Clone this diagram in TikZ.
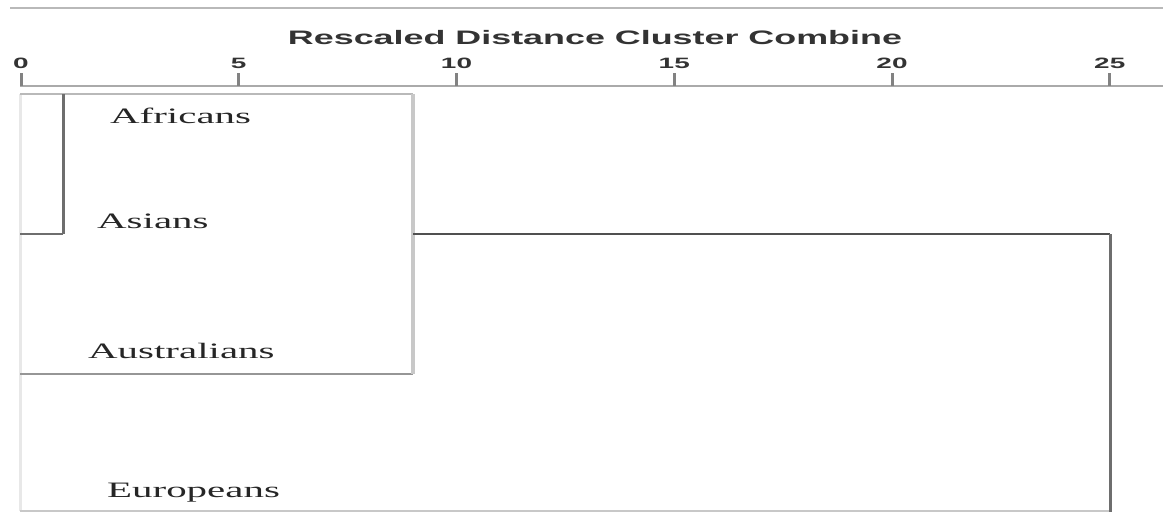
\documentclass[tikz,border=0pt]{standalone}
\usepackage{fontspec}
\setmainfont{Liberation Serif}
\newfontfamily\axisfont{Liberation Sans}
\usepackage{graphicx}
\newcommand\xstretch[1]{\scalebox{1.86}[1]{#1}}
\definecolor{frameGray}{RGB}{185,185,185}
\definecolor{axisGray}{RGB}{170,170,170}
\definecolor{tickGray}{RGB}{130,130,130}
\definecolor{paleGray}{RGB}{232,232,232}
\definecolor{lightGray}{RGB}{200,200,200}
\definecolor{midGray}{RGB}{150,150,150}
\definecolor{darkGray}{RGB}{110,110,110}
\definecolor{inkGray}{RGB}{80,80,80}
\begin{document}
\begin{tikzpicture}[x=1pt,y=-1pt,
  leaf/.style={anchor=base west, inner sep=0pt, text=black!85, font=\fontsize{22}{22}\selectfont},
  ticklabel/.style={anchor=base, inner sep=0pt, text=black!80, font=\axisfont\bfseries\fontsize{15}{15}\selectfont},
  titlelabel/.style={anchor=base, inner sep=0pt, text=black!80, font=\axisfont\bfseries\fontsize{19.5}{19.5}\selectfont},
  tickmark/.style={draw=tickGray, line width=3pt},
  link/.style={line width=2pt}
]
\useasboundingbox (0,0) rectangle (1163,512);
\fill[white] (0,0) rectangle (1163,512);

% top frame line and title
\coordinate (topL) at (10,8);
\coordinate (topR) at (1163,8);
\draw[frameGray, line width=2pt] (topL) -- (topR);
\node[titlelabel] (title) at (595,44) {\resizebox{614pt}{\height}{Rescaled Distance Cluster Combine}};

% axis
\coordinate (axL) at (20,86);
\coordinate (axR) at (1163,86);
\draw[axisGray, line width=2pt] (axL) -- (axR);
\foreach \v [count=\i from 0] in {0,5,10,15,20,25}{
  \pgfmathsetmacro\xx{21+43.55*\v}
  \node[ticklabel] (t\i) at (\xx,68) {\xstretch{\v}};
  \coordinate (tk\i a) at (\xx,73);
  \coordinate (tk\i b) at (\xx,86);
  \draw[tickmark] (tk\i a) -- (tk\i b);
}

% dendrogram coordinates
\coordinate (afrL) at (20,94);
\coordinate (afrM) at (63,94);
\coordinate (afrR) at (413,94);
\coordinate (asiL) at (20,234);
\coordinate (asiM) at (63,234);
\coordinate (ausL) at (20,374);
\coordinate (ausR) at (413,374);
\coordinate (j1) at (413,234);
\coordinate (j2) at (1110,234);
\coordinate (eurL) at (20,511);
\coordinate (eurR) at (1110,511);
\coordinate (botR) at (1110,512);

% lines
\draw[paleGray, line width=3pt] (afrL) -- (eurL);
\draw[frameGray, link] (afrL) -- (afrR);
\draw[darkGray, link] (asiL) -- (asiM);
\draw[darkGray, line width=3pt] (afrM) -- (asiM);
\draw[midGray, link] (ausL) -- (ausR);
\draw[lightGray, line width=4pt] (afrR) -- (ausR);
\draw[inkGray, link] (j1) -- (j2);
\draw[lightGray, line width=1.5pt] (eurL) -- (eurR);
\draw[darkGray, line width=3pt] (j2) -- (botR);

% leaf labels
\node[leaf] (africans) at (110,123) {\xstretch{Africans}};
\node[leaf] (asians) at (97,228) {\xstretch{Asians}};
\node[leaf] (australians) at (88,358) {\xstretch{Australians}};
\node[leaf] (europeans) at (107,497) {\xstretch{Europeans}};
\end{tikzpicture}
\end{document}
